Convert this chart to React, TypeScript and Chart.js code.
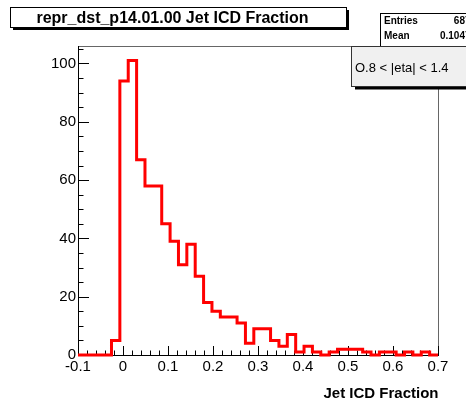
import React, { useEffect, useRef } from "react";
import { Chart, registerables } from "chart.js";

Chart.register(...registerables);

// Histogram definition (43 bins from -0.1 to 0.7)
const xMin = -0.1;
const xMax = 0.7;
const binCounts = [
  0, 0, 0, 0, 5, 94, 101, 67, 58, 58, 45, 39, 31, 38, 27, 18, 15, 13, 13, 11, 4,
  9, 9, 5, 3, 7, 1, 3, 1, 0, 1, 2, 2, 2, 1, 0, 1, 1, 0, 1, 0, 1, 0,
];
const yMax = 106;
const xTickStep = 0.1;
const yTickStep = 20;

const titleText = "repr_dst_p14.01.00 Jet ICD Fraction";
const xAxisTitle = "Jet ICD Fraction";
const statsLabels = ["Entries", "Mean"];
const statsValues = ["687", "0.1047"];
const legendText = "O.8 < |eta| < 1.4";

const FONT = '"Liberation Sans", Arial, Helvetica, sans-serif';

export default function App() {
  const ref = useRef<HTMLCanvasElement | null>(null);

  useEffect(() => {
    if (!ref.current) return;
    const nb = binCounts.length;
    const w = (xMax - xMin) / nb;
    const pts = binCounts.map((v, i) => ({ x: xMin + i * w, y: v }));
    pts.push({ x: xMax, y: binCounts[nb - 1] });

    const decor = {
      id: "rootDecor",
      beforeDatasetsDraw(chart: any) {
        const ctx = chart.ctx as CanvasRenderingContext2D;
        const a = chart.chartArea;
        const xs = chart.scales.x;
        const ys = chart.scales.y;
        ctx.save();
        // frame top/right (gray)
        ctx.strokeStyle = "#666";
        ctx.lineWidth = 1;
        ctx.beginPath();
        ctx.moveTo(a.left, a.top + 0.5);
        ctx.lineTo(a.right + 0.5, a.top + 0.5);
        ctx.lineTo(a.right + 0.5, a.bottom);
        ctx.stroke();
        // axes
        ctx.strokeStyle = "#000";
        ctx.beginPath();
        ctx.moveTo(a.left + 0.5, a.top);
        ctx.lineTo(a.left + 0.5, a.bottom + 0.5);
        ctx.lineTo(a.right + 1, a.bottom + 0.5);
        ctx.stroke();
        // y ticks
        ctx.beginPath();
        for (let v = 0; v <= yMax + 1e-9; v += 5) {
          const y = Math.round(ys.getPixelForValue(v)) + 0.5;
          const len = v % yTickStep === 0 ? 11 : 5.5;
          ctx.moveTo(a.left, y);
          ctx.lineTo(a.left + len, y);
        }
        // x ticks
        for (let i = 0; i <= 40; i++) {
          const v = xMin + i * 0.02;
          const x = Math.round(xs.getPixelForValue(v)) + 0.5;
          const len = i % 5 === 0 ? 9 : 4.5;
          ctx.moveTo(x, a.bottom);
          ctx.lineTo(x, a.bottom - len);
        }
        ctx.stroke();
        ctx.restore();
      },
      afterDraw(chart: any) {
        const ctx = chart.ctx as CanvasRenderingContext2D;
        const a = chart.chartArea;
        ctx.save();
        // title box
        ctx.fillStyle = "#000";
        ctx.fillRect(13, 10, 336, 20);
        ctx.fillStyle = "#fff";
        ctx.fillRect(10.5, 7.5, 336, 20);
        ctx.strokeStyle = "#000";
        ctx.lineWidth = 1;
        ctx.strokeRect(10.5, 7.5, 336, 20);
        ctx.fillStyle = "#000";
        ctx.font = `bold 16px ${FONT}`;
        ctx.textAlign = "center";
        ctx.textBaseline = "alphabetic";
        ctx.fillText(titleText, 172.5, 22.5);

        // stats box
        ctx.fillStyle = "#fff";
        ctx.fillRect(380.5, 13.5, 100, 40);
        ctx.strokeRect(380.5, 13.5, 100, 40);
        ctx.fillStyle = "#000";
        ctx.font = `bold 10px ${FONT}`;
        ctx.textBaseline = "middle";
        statsLabels.forEach((lab, i) => {
          ctx.textAlign = "left";
          ctx.fillText(lab, 384, 21.7 + i * 15);
          ctx.textAlign = "right";
          ctx.fillText(statsValues[i], 470.5, 21.7 + i * 15);
        });

        // legend box with shadow
        ctx.fillStyle = "#000";
        ctx.fillRect(355, 49.5, 120, 40);
        ctx.fillStyle = "#f0f0f0";
        ctx.fillRect(351.5, 46.5, 120, 40);
        ctx.strokeStyle = "#333";
        ctx.strokeRect(351.5, 46.5, 120, 40);
        ctx.fillStyle = "#000";
        ctx.font = `13px ${FONT}`;
        ctx.textAlign = "left";
        ctx.textBaseline = "alphabetic";
        ctx.fillText(legendText, 355, 71.5);

        // x axis title
        ctx.font = `bold 15px ${FONT}`;
        ctx.textAlign = "right";
        ctx.fillText(xAxisTitle, a.right + 0.5, 398);
        ctx.restore();
      },
    };

    const chart = new Chart(ref.current, {
      type: "line",
      data: {
        datasets: [
          {
            data: pts,
            stepped: "before",
            borderColor: "#ff0000",
            borderWidth: 3,
            pointRadius: 0,
            fill: false,
            clip: 10,
          } as any,
        ],
      },
      options: {
        animation: false,
        responsive: false,
        devicePixelRatio: 1,
        layout: { padding: { left: 0, right: 28, top: 46, bottom: 0 } },
        plugins: { legend: { display: false }, tooltip: { enabled: false }, title: { display: false } },
        scales: {
          x: {
            type: "linear",
            min: xMin,
            max: xMax,
            border: { display: false },
            grid: { display: false, drawTicks: false },
            afterFit: (s: any) => {
              s.height = 48;
            },
            ticks: {
              stepSize: xTickStep,
              autoSkip: false,
              maxRotation: 0,
              padding: 3,
              color: "#000",
              font: { family: FONT, size: 15 },
              callback: (v: any) => {
                const r = Math.round(Number(v) * 10) / 10;
                return r === 0 ? "0" : r.toFixed(1);
              },
            },
          },
          y: {
            type: "linear",
            min: 0,
            max: yMax,
            border: { display: false },
            grid: { display: false, drawTicks: false },
            afterFit: (s: any) => {
              s.width = 78;
            },
            ticks: {
              stepSize: yTickStep,
              includeBounds: false,
              padding: 2,
              color: "#000",
              font: { family: FONT, size: 15 },
            },
          },
        },
      },
      plugins: [decor],
    });
    return () => chart.destroy();
  }, []);

  return (
    <div style={{ position: "absolute", left: 0, top: 0, width: 466, height: 403, background: "#fff" }}>
      <canvas ref={ref} width={466} height={403} style={{ display: "block" }} />
    </div>
  );
}
